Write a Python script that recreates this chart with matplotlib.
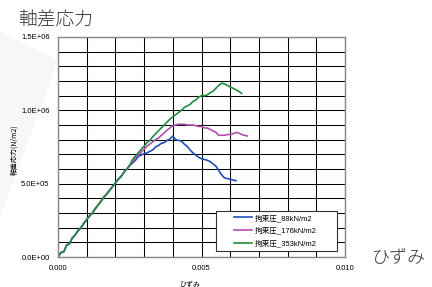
'''
軸差応力 - ひずみ chart (three confining pressures)
'''
import numpy as np
from matplotlib import pyplot as plt
from matplotlib.patches import Polygon, Rectangle

plt.rcParams['font.family'] = ['Liberation Sans', 'Noto Sans CJK JP']

# data
strain_common = [0.0, 0.0001, 0.0002, 0.0003, 0.0004, 0.0005, 0.0006, 0.0007, 0.0008,
                 0.0009, 0.0010, 0.0011, 0.0012, 0.0013, 0.0014, 0.0015, 0.0016, 0.0017,
                 0.0018, 0.0019, 0.0020, 0.0021, 0.0022, 0.0023, 0.0024, 0.0025]
stress_common = [0.0, 3.0e4, 3.5e4, 8.0e4, 9.0e4, 1.3e5, 1.5e5, 1.8e5, 2.0e5,
                 2.3e5, 2.55e5, 2.8e5, 3.0e5, 3.3e5, 3.55e5, 3.8e5, 4.1e5, 4.3e5,
                 4.55e5, 4.8e5, 5.05e5, 5.3e5, 5.5e5, 5.8e5, 6.0e5, 6.25e5]

strain_88 = [0.0026, 0.0027, 0.0028, 0.0029, 0.0030, 0.0031, 0.0032, 0.0033, 0.0034,
             0.0035, 0.0036, 0.0037, 0.0038, 0.0039, 0.0040, 0.0041, 0.0042, 0.0043,
             0.0044, 0.0045, 0.0046, 0.0047, 0.0048, 0.0049, 0.0050, 0.0051, 0.0052,
             0.0053, 0.0054, 0.0055, 0.0056, 0.0057, 0.0058, 0.0059, 0.0060, 0.0061, 0.0062]
stress_88 = [6.4e5, 6.6e5, 6.85e5, 6.95e5, 7.05e5, 7.1e5, 7.2e5, 7.3e5, 7.5e5,
             7.6e5, 7.75e5, 7.8e5, 7.95e5, 8.05e5, 8.25e5, 8.0e5, 7.95e5, 7.9e5,
             7.7e5, 7.55e5, 7.3e5, 7.1e5, 6.95e5, 6.8e5, 6.7e5, 6.65e5, 6.6e5,
             6.5e5, 6.35e5, 6.2e5, 5.9e5, 5.6e5, 5.4e5, 5.35e5, 5.3e5, 5.25e5, 5.2e5]

strain_176 = [0.0026, 0.0027, 0.0028, 0.0029, 0.0030, 0.0031, 0.0032, 0.0033, 0.0034,
              0.0035, 0.0036, 0.0037, 0.0038, 0.0039, 0.0040, 0.0041, 0.0042, 0.0043,
              0.0044, 0.0045, 0.0046, 0.0047, 0.0048, 0.0049, 0.0050, 0.0051, 0.0052,
              0.0053, 0.0054, 0.0055, 0.0056, 0.0057, 0.0058, 0.0059, 0.0060, 0.0061,
              0.0062, 0.0063, 0.0064, 0.0065, 0.0066]
stress_176 = [6.5e5, 6.75e5, 6.95e5, 7.15e5, 7.35e5, 7.55e5, 7.7e5, 7.85e5, 8.0e5,
              8.1e5, 8.3e5, 8.45e5, 8.65e5, 8.8e5, 8.95e5, 9.0e5, 9.05e5, 9.05e5,
              9.05e5, 9.0e5, 9.0e5, 9.0e5, 8.95e5, 8.9e5, 8.9e5, 8.8e5, 8.8e5,
              8.7e5, 8.6e5, 8.5e5, 8.3e5, 8.3e5, 8.3e5, 8.35e5, 8.35e5, 8.4e5,
              8.5e5, 8.45e5, 8.35e5, 8.3e5, 8.25e5]

strain_353 = [0.0026, 0.0027, 0.0028, 0.0029, 0.0030, 0.0031, 0.0032, 0.0033, 0.0034,
              0.0035, 0.0036, 0.0037, 0.0038, 0.0039, 0.0040, 0.0041, 0.0042, 0.0043,
              0.0044, 0.0045, 0.0046, 0.0047, 0.0048, 0.0049, 0.0050, 0.0051, 0.0052,
              0.0053, 0.0054, 0.0055, 0.0056, 0.0057, 0.0058, 0.0059, 0.0060, 0.0061,
              0.0062, 0.0063, 0.0064]
stress_353 = [6.65e5, 6.9e5, 7.1e5, 7.35e5, 7.55e5, 7.8e5, 7.95e5, 8.2e5, 8.4e5,
              8.6e5, 8.8e5, 9.0e5, 9.2e5, 9.4e5, 9.55e5, 9.7e5, 9.85e5, 1.0e6,
              1.02e6, 1.03e6, 1.04e6, 1.06e6, 1.07e6, 1.09e6, 1.10e6, 1.10e6, 1.105e6,
              1.12e6, 1.13e6, 1.15e6, 1.17e6, 1.185e6, 1.18e6, 1.17e6, 1.16e6, 1.15e6,
              1.14e6, 1.13e6, 1.115e6]

labels = ['拘束圧_88kN/m2', '拘束圧_176kN/m2', '拘束圧_353kN/m2']
colors = ['#1f4fb4', '#b050b0', '#1e8c3e']

xtick_labels = ['0.000', '0.005', '0.010']
ytick_labels = ['0.0E+00', '5.0E+05', '1.0E+06', '1.5E+06']

#plotting
fig = plt.figure(figsize=(4.32, 2.87), dpi=100)
fig.patches.append(Polygon([[0, 1 - 32/287], [58/432, 1 - 60/287], [0, 1 - 218/287]],
                           closed=True, transform=fig.transFigure, facecolor='#f7f7f7',
                           edgecolor='none', zorder=-5))
ax = fig.add_axes([58/432, 1 - 257/287, 287/432, 220/287])
ax.patch.set_alpha(0)

series = [(strain_88, stress_88), (strain_176, stress_176), (strain_353, stress_353)]
for (sx, sy), lab, col in zip(series, labels, colors):
    ax.plot(strain_common + sx, stress_common + sy, color=col, lw=1.2, label=lab)

ax.set_xlim(0, 0.010)
ax.set_ylim(0, 1.5e6)
ax.set_xticks(np.arange(11) * 0.001)
ax.set_xticklabels([xtick_labels[i // 5] if i % 5 == 0 else '' for i in range(11)])
ax.set_yticks(np.arange(16) * 1e5)
ax.set_yticklabels([ytick_labels[i // 5] if i % 5 == 0 else '' for i in range(16)])
ax.tick_params(length=0, labelsize=5.5, pad=6)
ax.grid(True, color='black', lw=0.75)
ax.set_axisbelow(True)
for sp in ax.spines.values():
    sp.set_color('#888888')
    sp.set_linewidth(1.0)

# legend box drawn by hand (wide left margin like the original)
ax.add_patch(Rectangle(((216 - 58) / 287, (257 - 251) / 220), 121 / 287, 40 / 220,
                       transform=ax.transAxes, facecolor='white', edgecolor='#333333',
                       lw=0.8, zorder=4))
leg = ax.legend(loc='upper left', bbox_to_anchor=((234 - 58) / 287, (257 - 214) / 220),
                fontsize=5.5, frameon=False, borderpad=0, borderaxespad=0,
                handlelength=2.4, handletextpad=0.3, labelspacing=0.65)
leg.set_zorder(5)

fig.text(18/432, 1 - 20/287, '軸差応力', fontsize=13.5, family=['Noto Sans CJK JP'],
         va='center', ha='left', weight='light', color='#333333')
fig.text(399/432, 1 - 257/287, 'ひずみ', fontsize=13, family=['Noto Sans CJK JP'],
         va='center', ha='center', weight='light', color='#333333')
fig.text(14/432, 1 - 150/287, '軸差応力(N/m2)', fontsize=5, rotation=90,
         va='center', ha='center', family=['Noto Sans CJK JP', 'Liberation Sans'])
fig.text(190/432, 1 - 284/287, 'ひずみ', fontsize=5, va='center', ha='center',
         family=['Noto Sans CJK JP'])

fig.savefig('out.png', dpi=100)
